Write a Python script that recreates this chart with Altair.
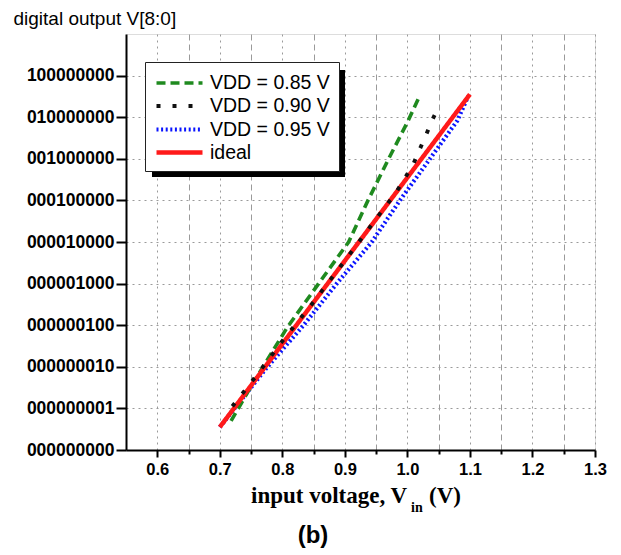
import altair as alt
import pandas as pd

# ---------------- data ----------------
series_names = ["VDD = 0.85 V", "VDD = 0.90 V", "VDD = 0.95 V", "ideal"]
series_colors = ["#1f8a1f", "#111111", "#0a14ff", "#ff1a1a"]

v085 = [0.718, 0.75, 0.808, 0.858, 0.906, 0.937, 0.970, 1.000, 1.018]
y085 = [0.70, 1.53, 2.95, 4.00, 5.00, 6.00, 7.00, 7.88, 8.46]

v090 = [0.720, 0.750, 0.800, 0.850, 0.900, 0.950, 0.981, 0.997, 1.010, 1.020, 1.030, 1.040, 1.051]
y090 = [1.05, 1.62, 2.62, 3.56, 4.55, 5.56, 6.17, 6.56, 6.89, 7.24, 7.58, 7.94, 8.28]

v095 = [0.700, 0.774, 0.834, 0.887, 0.943, 0.988, 1.036, 1.080, 1.097]
y095 = [0.55, 1.96, 3.00, 4.00, 5.00, 6.00, 7.00, 7.92, 8.50]

v_ideal = [0.70, 1.10]
y_ideal = [0.55, 8.55]

y_codes = ["000000000", "000000001", "000000010", "000000100", "000001000",
           "000010000", "000100000", "001000000", "010000000", "100000000"]
x_ticks = [0.6, 0.65, 0.7, 0.75, 0.8, 0.85, 0.9, 0.95, 1.0, 1.05, 1.1, 1.15, 1.2, 1.25, 1.3]

rows = []
for name, vs, ys in zip(series_names, [v085, v090, v095, v_ideal], [y085, y090, y095, y_ideal]):
    for i, (a, b) in enumerate(zip(vs, ys)):
        rows.append({"s": name, "v": a, "L": b, "i": i})
df = pd.DataFrame(rows)

major = "abs(datum.value*10 - round(datum.value*10)) < 0.001"
code_js = "[" + ",".join("'%s'" % c for c in y_codes) + "]"

x_enc = alt.X(
    "v:Q",
    scale=alt.Scale(domain=[0.55, 1.3], nice=False, zero=False),
    axis=alt.Axis(
        values=x_ticks, title=None,
        labelExpr=major + " ? format(datum.value, '.1f') : ''",
        labelFont="Liberation Sans", labelFontSize=16.5, labelFontWeight="bold",
        labelColor="black", labelFlush=False, labelOverlap=False, labelPadding=4,
        tickColor="black", tickWidth=2,
        tickSize={"condition": {"test": major, "value": 7}, "value": 4},
        domainColor="black", domainWidth=2,
        grid=True, gridColor="#9a9a9a", gridWidth=1,
        gridDash={"condition": {"test": major, "value": [2, 4]}, "value": [6, 4]},
    ),
)
y_enc = alt.Y(
    "L:Q",
    scale=alt.Scale(domain=[0, 10], nice=False, zero=False),
    axis=alt.Axis(
        values=list(range(10)),
        labelExpr=code_js + "[round(datum.value)]",
        title="digital output V[8:0]", titleAngle=0, titleAlign="left",
        titleBaseline="alphabetic", titleX=-113, titleY=-10,
        titleFont="Liberation Sans", titleFontSize=19, titleFontWeight="normal",
        titleColor="black",
        labelFont="Liberation Sans", labelFontSize=17.5, labelFontWeight="bold",
        labelColor="black", labelFlush=False, labelOverlap=False, labelPadding=2,
        tickColor="black", tickWidth=2, tickSize=10,
        domainColor="black", domainWidth=2,
        grid=True, gridColor="#9a9a9a", gridWidth=1, gridDash=[2, 4],
    ),
)

legend = alt.Legend(
    orient="none", legendX=19, legendY=28, title=None,
    symbolType="M-1,0H3.6", symbolSize=400,
    labelFont="Liberation Sans", labelFontSize=19.5, labelColor="black",
    labelOffset=31, fillColor="white", strokeColor="#222222",
    padding=9, rowPadding=1,
)

base = alt.Chart(df).mark_line(strokeCap="butt").encode(
    x=x_enc, y=y_enc,
    order="i:Q",
    color=alt.Color("s:N", scale=alt.Scale(domain=series_names, range=series_colors), legend=legend),
    strokeDash=alt.StrokeDash("s:N", scale=alt.Scale(domain=series_names,
                              range=[[9, 5], [4, 12], [2, 2.6], [1, 0]]), legend=legend),
    strokeWidth=alt.StrokeWidth("s:N", scale=alt.Scale(domain=series_names,
                                range=[3.6, 4.5, 2.8, 4.2]), legend=legend),
)

layers_order = ["VDD = 0.95 V", "VDD = 0.85 V", "ideal", "VDD = 0.90 V"]
lines = [base.transform_filter(alt.datum.s == n) for n in layers_order]

one = pd.DataFrame({"a": [0]})
shadow = alt.Chart(one).mark_rect(color="black").encode(
    x=alt.value(26), x2=alt.value(219), y=alt.value(36), y2=alt.value(143))

t1 = alt.Chart(pd.DataFrame({"t": ["input voltage, V"]})).mark_text(
    font="Liberation Serif", fontSize=23, fontWeight="bold", align="left",
    baseline="alphabetic", color="black").encode(text="t:N", x=alt.value(125), y=alt.value(469))
t2 = alt.Chart(pd.DataFrame({"t": ["in"]})).mark_text(
    font="Liberation Serif", fontSize=14, fontWeight="bold", align="left",
    baseline="alphabetic", color="black").encode(text="t:N", x=alt.value(285), y=alt.value(478))
t3 = alt.Chart(pd.DataFrame({"t": ["(V)"]})).mark_text(
    font="Liberation Serif", fontSize=23, fontWeight="bold", align="left",
    baseline="alphabetic", color="black").encode(text="t:N", x=alt.value(303), y=alt.value(469))
t4 = alt.Chart(pd.DataFrame({"t": ["(b)"]})).mark_text(
    font="Liberation Sans", fontSize=24, fontWeight="bold", align="center",
    baseline="alphabetic", color="black").encode(text="t:N", x=alt.value(187), y=alt.value(509))

chart = alt.layer(shadow, *lines, t1, t2, t3, t4).properties(
    width=469, height=416,
    autosize=alt.AutoSizeParams(type="none"),
    padding={"left": 118, "top": 26, "right": 15, "bottom": 98},
).configure_view(stroke="black", strokeWidth=1.5).configure(background="white")

chart.save("out.html", embed_options={"renderer": "svg", "actions": False})
